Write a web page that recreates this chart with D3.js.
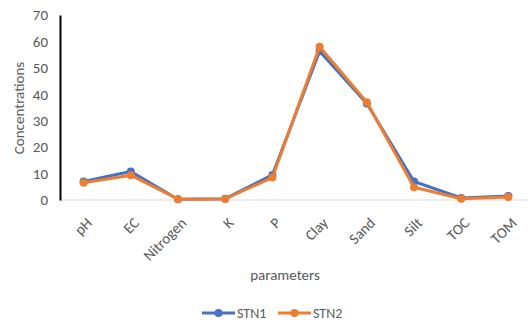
<!DOCTYPE html>
<html><head><meta charset="utf-8">
<script src="https://cdn.jsdelivr.net/npm/d3@7"></script>
<style>body{margin:0;background:#fff}svg{display:block}text{font-family:Calibri,Carlito,"Open Sans","Liberation Sans",Arial,sans-serif}</style>
</head><body><svg id="c" width="528" height="322"></svg>
<script>
const categories = ["pH","EC","Nitrogen","K","P","Clay","Sand","Silt","TOC","TOM"];
const stn1 = [7, 10.8, 0.3, 0.5, 9.5, 56.3, 36.5, 7, 0.8, 1.5];
const stn2 = [6.5, 9.4, 0.3, 0.4, 8.5, 58, 37, 4.8, 0.5, 1.1];
const yTicks = [0,10,20,30,40,50,60,70];
const seriesNames = ["STN1","STN2"];
const colors = ["#4472C4","#ED7D31"];

const svg = d3.select("#c");
const x = d3.scalePoint().domain(categories).range([60, 532]).padding(0.5);
const y = d3.scaleLinear().domain([0,70]).range([200, 15]);

svg.append("line").attr("x1",60).attr("x2",528).attr("y1",y(0)).attr("y2",y(0)).attr("stroke","#d9d9d9").attr("stroke-width",1);

const ya = svg.append("g").attr("transform","translate(60,0)").call(d3.axisLeft(y).tickValues(yTicks).tickSize(0).tickPadding(12));
ya.select(".domain").attr("stroke","#000").attr("stroke-width",2);
ya.selectAll("text").attr("fill","#595959").style("font-size","15px");

const xa = svg.append("g").attr("transform",`translate(0,${y(0)})`).call(d3.axisBottom(x).tickSize(0));
xa.select(".domain").remove();
xa.selectAll("text").attr("fill","#595959").style("font-size","15px")
  .attr("text-anchor","end").attr("dy","0.35em")
  .attr("transform","translate(3,18) rotate(-45)");

svg.append("text").attr("transform","translate(24,108) rotate(-90)").attr("text-anchor","middle")
  .attr("fill","#595959").style("font-size","15px").text("Concentrations");
svg.append("text").attr("x",285).attr("y",280).attr("text-anchor","middle")
  .attr("fill","#595959").style("font-size","15px").text("parameters");

const line = d3.line().x((d,i)=>x(categories[i])).y(d=>y(d));
[stn1, stn2].forEach((s,k)=>{
  svg.append("path").datum(s).attr("d",line).attr("fill","none").attr("stroke",colors[k]).attr("stroke-width",3).attr("stroke-linejoin","round");
  svg.selectAll(null).data(s).enter().append("circle").attr("cx",(d,i)=>x(categories[i])).attr("cy",d=>y(d)).attr("r",4).attr("fill",colors[k]);
});

const lx = [202, 278];
seriesNames.forEach((n,k)=>{
  const g = svg.append("g").attr("transform",`translate(${lx[k]},313)`);
  g.append("line").attr("x1",0).attr("x2",33).attr("stroke",colors[k]).attr("stroke-width",3);
  g.append("circle").attr("cx",16.5).attr("r",4).attr("fill",colors[k]);
  g.append("text").attr("x",35).attr("dy","0.35em").attr("fill","#595959").style("font-size","14px").text(n);
});
</script></body></html>
